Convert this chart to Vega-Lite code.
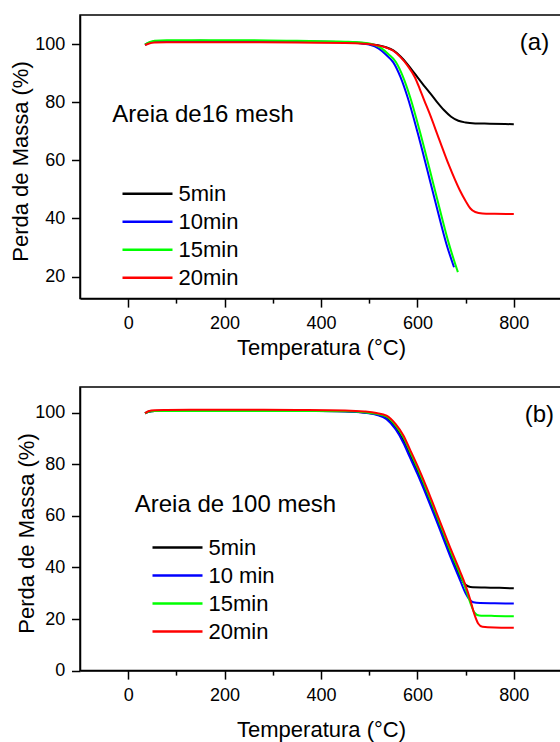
{
  "$schema": "https://vega.github.io/schema/vega-lite/v6.json",
  "padding": {"left": 8, "top": 14, "right": 0, "bottom": 0},
  "background": "white",
  "bounds": "flush",
  "spacing": 88,
  "config": {
    "font": "Liberation Sans",
    "view": {"stroke": "black", "strokeWidth": 1.5},
    "axis": {
      "domainColor": "black", "domainWidth": 1.5, "tickColor": "black", "tickWidth": 1.5,
      "labelColor": "black", "labelFontSize": 18, "labelFont": "Liberation Sans",
      "titleFont": "Liberation Sans", "titleFontSize": 22, "titleFontWeight": "normal", "titleColor": "black",
      "grid": false
    },
    "legend": {
      "orient": "none", "symbolType": "stroke", "symbolSize": 2500, "symbolStrokeWidth": 2.5,
      "labelFontSize": 22, "labelFont": "Liberation Sans", "labelColor": "black", "labelLimit": 300,
      "padding": 0, "rowPadding": 0, "labelOffset": 4.5
    }
  },
  "datasets": {
    "a": [
      {"T":35,"m":99.8,"s":"5min"},{"T":42,"m":100.4,"s":"5min"},{"T":55,"m":100.9,"s":"5min"},{"T":80,"m":101.0,"s":"5min"},{"T":150,"m":101.1,"s":"5min"},{"T":250,"m":101.0,"s":"5min"},{"T":350,"m":100.9,"s":"5min"},{"T":450,"m":100.6,"s":"5min"},{"T":490,"m":100.2,"s":"5min"},{"T":515,"m":99.7,"s":"5min"},{"T":535,"m":98.9,"s":"5min"},{"T":550,"m":97.8,"s":"5min"},{"T":565,"m":95.7,"s":"5min"},{"T":580,"m":92.9,"s":"5min"},{"T":595,"m":89.7,"s":"5min"},{"T":610,"m":86.5,"s":"5min"},{"T":625,"m":83.4,"s":"5min"},{"T":640,"m":80.2,"s":"5min"},{"T":655,"m":77.3,"s":"5min"},{"T":670,"m":75.0,"s":"5min"},{"T":685,"m":73.6,"s":"5min"},{"T":700,"m":73.0,"s":"5min"},{"T":720,"m":72.7,"s":"5min"},{"T":750,"m":72.6,"s":"5min"},{"T":800,"m":72.4,"s":"5min"},
      {"T":35,"m":99.7,"s":"10min"},{"T":42,"m":100.3,"s":"10min"},{"T":55,"m":100.8,"s":"10min"},{"T":80,"m":100.9,"s":"10min"},{"T":150,"m":101.0,"s":"10min"},{"T":250,"m":101.0,"s":"10min"},{"T":350,"m":100.9,"s":"10min"},{"T":450,"m":100.6,"s":"10min"},{"T":480,"m":100.3,"s":"10min"},{"T":500,"m":99.8,"s":"10min"},{"T":520,"m":98.4,"s":"10min"},{"T":535,"m":96.3,"s":"10min"},{"T":550,"m":93.7,"s":"10min"},{"T":565,"m":88.6,"s":"10min"},{"T":580,"m":81.5,"s":"10min"},{"T":600,"m":69.8,"s":"10min"},{"T":620,"m":57.0,"s":"10min"},{"T":640,"m":43.9,"s":"10min"},{"T":660,"m":31.3,"s":"10min"},{"T":676,"m":23.2,"s":"10min"},
      {"T":35,"m":99.8,"s":"15min"},{"T":42,"m":100.5,"s":"15min"},{"T":55,"m":101.1,"s":"15min"},{"T":80,"m":101.3,"s":"15min"},{"T":150,"m":101.3,"s":"15min"},{"T":250,"m":101.3,"s":"15min"},{"T":350,"m":101.1,"s":"15min"},{"T":450,"m":100.8,"s":"15min"},{"T":485,"m":100.5,"s":"15min"},{"T":505,"m":100.0,"s":"15min"},{"T":525,"m":98.6,"s":"15min"},{"T":540,"m":96.5,"s":"15min"},{"T":555,"m":93.9,"s":"15min"},{"T":570,"m":88.8,"s":"15min"},{"T":585,"m":81.7,"s":"15min"},{"T":605,"m":70.0,"s":"15min"},{"T":625,"m":57.2,"s":"15min"},{"T":645,"m":44.1,"s":"15min"},{"T":665,"m":31.5,"s":"15min"},{"T":684,"m":21.5,"s":"15min"},
      {"T":35,"m":99.6,"s":"20min"},{"T":42,"m":100.1,"s":"20min"},{"T":55,"m":100.5,"s":"20min"},{"T":80,"m":100.6,"s":"20min"},{"T":150,"m":100.6,"s":"20min"},{"T":250,"m":100.6,"s":"20min"},{"T":350,"m":100.5,"s":"20min"},{"T":450,"m":100.4,"s":"20min"},{"T":490,"m":100.1,"s":"20min"},{"T":515,"m":99.6,"s":"20min"},{"T":535,"m":98.8,"s":"20min"},{"T":550,"m":97.7,"s":"20min"},{"T":565,"m":95.5,"s":"20min"},{"T":580,"m":92.5,"s":"20min"},{"T":595,"m":88.5,"s":"20min"},{"T":605,"m":84.5,"s":"20min"},{"T":615,"m":80.3,"s":"20min"},{"T":625,"m":76.2,"s":"20min"},{"T":645,"m":67.3,"s":"20min"},{"T":665,"m":58.5,"s":"20min"},{"T":688,"m":49.7,"s":"20min"},{"T":700,"m":46.0,"s":"20min"},{"T":710,"m":43.4,"s":"20min"},{"T":720,"m":42.2,"s":"20min"},{"T":735,"m":41.7,"s":"20min"},{"T":760,"m":41.6,"s":"20min"},{"T":800,"m":41.5,"s":"20min"}
    ],
    "b": [
      {"T":35,"m":99.8,"s":"5min"},{"T":42,"m":100.4,"s":"5min"},{"T":55,"m":100.7,"s":"5min"},{"T":80,"m":100.8,"s":"5min"},{"T":150,"m":100.8,"s":"5min"},{"T":250,"m":100.8,"s":"5min"},{"T":350,"m":100.8,"s":"5min"},{"T":450,"m":100.6,"s":"5min"},{"T":490,"m":100.1,"s":"5min"},{"T":515,"m":99.4,"s":"5min"},{"T":536,"m":97.9,"s":"5min"},{"T":555,"m":94.2,"s":"5min"},{"T":571,"m":89.3,"s":"5min"},{"T":584,"m":84.0,"s":"5min"},{"T":600,"m":77.5,"s":"5min"},{"T":619,"m":69.0,"s":"5min"},{"T":636,"m":61.0,"s":"5min"},{"T":653,"m":52.9,"s":"5min"},{"T":670,"m":44.7,"s":"5min"},{"T":685,"m":37.8,"s":"5min"},{"T":695,"m":34.3,"s":"5min"},{"T":705,"m":32.7,"s":"5min"},{"T":715,"m":32.3,"s":"5min"},{"T":740,"m":32.2,"s":"5min"},{"T":770,"m":32.1,"s":"5min"},{"T":800,"m":31.9,"s":"5min"},
      {"T":35,"m":99.8,"s":"10 min"},{"T":42,"m":100.4,"s":"10 min"},{"T":55,"m":100.7,"s":"10 min"},{"T":80,"m":100.8,"s":"10 min"},{"T":150,"m":100.9,"s":"10 min"},{"T":250,"m":100.9,"s":"10 min"},{"T":350,"m":100.8,"s":"10 min"},{"T":450,"m":100.5,"s":"10 min"},{"T":490,"m":100.0,"s":"10 min"},{"T":515,"m":99.2,"s":"10 min"},{"T":536,"m":97.5,"s":"10 min"},{"T":555,"m":93.5,"s":"10 min"},{"T":571,"m":88.3,"s":"10 min"},{"T":584,"m":82.9,"s":"10 min"},{"T":600,"m":76.3,"s":"10 min"},{"T":619,"m":67.8,"s":"10 min"},{"T":636,"m":59.8,"s":"10 min"},{"T":653,"m":51.6,"s":"10 min"},{"T":670,"m":43.4,"s":"10 min"},{"T":688,"m":35.3,"s":"10 min"},{"T":700,"m":30.0,"s":"10 min"},{"T":708,"m":27.6,"s":"10 min"},{"T":716,"m":26.5,"s":"10 min"},{"T":730,"m":26.2,"s":"10 min"},{"T":760,"m":26.1,"s":"10 min"},{"T":800,"m":26.0,"s":"10 min"},
      {"T":35,"m":99.8,"s":"15min"},{"T":42,"m":100.4,"s":"15min"},{"T":55,"m":100.7,"s":"15min"},{"T":80,"m":100.7,"s":"15min"},{"T":150,"m":100.7,"s":"15min"},{"T":250,"m":100.7,"s":"15min"},{"T":350,"m":100.7,"s":"15min"},{"T":450,"m":100.6,"s":"15min"},{"T":490,"m":100.2,"s":"15min"},{"T":515,"m":99.6,"s":"15min"},{"T":536,"m":98.5,"s":"15min"},{"T":555,"m":95.0,"s":"15min"},{"T":571,"m":90.5,"s":"15min"},{"T":584,"m":85.2,"s":"15min"},{"T":600,"m":78.6,"s":"15min"},{"T":619,"m":70.0,"s":"15min"},{"T":636,"m":62.0,"s":"15min"},{"T":653,"m":53.9,"s":"15min"},{"T":670,"m":45.7,"s":"15min"},{"T":688,"m":37.6,"s":"15min"},{"T":700,"m":31.8,"s":"15min"},{"T":710,"m":26.2,"s":"15min"},{"T":718,"m":22.6,"s":"15min"},{"T":728,"m":21.4,"s":"15min"},{"T":760,"m":21.2,"s":"15min"},{"T":800,"m":21.1,"s":"15min"},
      {"T":35,"m":99.8,"s":"20min"},{"T":42,"m":100.6,"s":"20min"},{"T":55,"m":101.0,"s":"20min"},{"T":80,"m":101.1,"s":"20min"},{"T":150,"m":101.2,"s":"20min"},{"T":250,"m":101.2,"s":"20min"},{"T":350,"m":101.1,"s":"20min"},{"T":450,"m":100.9,"s":"20min"},{"T":490,"m":100.5,"s":"20min"},{"T":515,"m":99.9,"s":"20min"},{"T":536,"m":98.9,"s":"20min"},{"T":555,"m":95.6,"s":"20min"},{"T":571,"m":91.2,"s":"20min"},{"T":584,"m":86.0,"s":"20min"},{"T":600,"m":79.5,"s":"20min"},{"T":619,"m":71.1,"s":"20min"},{"T":636,"m":63.0,"s":"20min"},{"T":653,"m":54.9,"s":"20min"},{"T":670,"m":46.8,"s":"20min"},{"T":688,"m":38.7,"s":"20min"},{"T":700,"m":33.0,"s":"20min"},{"T":710,"m":27.3,"s":"20min"},{"T":718,"m":22.0,"s":"20min"},{"T":726,"m":18.3,"s":"20min"},{"T":735,"m":17.0,"s":"20min"},{"T":760,"m":16.7,"s":"20min"},{"T":800,"m":16.6,"s":"20min"}
    ]
  },
  "vconcat": [
    {
      "width": 482,
      "height": 283.6,
      "layer": [
        {
          "data": {"name": "a"},
          "mark": {"type": "line", "strokeWidth": 2, "interpolate": "monotone"},
          "encoding": {
            "x": {
              "field": "T", "type": "quantitative",
              "scale": {"domain": [-100, 900], "nice": false, "zero": false},
              "axis": {
                "title": "Temperatura (°C)",
                "values": [0, 100, 200, 300, 400, 500, 600, 700, 800],
                "labelExpr": "datum.value % 200 === 0 ? datum.label : ''",
                "tickSize": {"condition": {"test": "datum.value % 200 === 0", "value": 8.5}, "value": 4.5},
                "labelPadding": 7.5,
                "titlePadding": 5
              }
            },
            "y": {
              "field": "m", "type": "quantitative",
              "scale": {"domain": [12.4, 110], "nice": false, "zero": false},
              "axis": {
                "title": "Perda de Massa (%)",
                "values": [20, 30, 40, 50, 60, 70, 80, 90, 100],
                "labelExpr": "datum.value % 20 === 0 ? datum.label : ''",
                "tickSize": {"condition": {"test": "datum.value % 20 === 0", "value": 8.5}, "value": 4.5},
                "labelPadding": 6.8,
                "titlePadding": 2,
                "titleY": 146
              }
            },
            "color": {
              "field": "s", "type": "nominal",
              "scale": {"domain": ["5min", "10min", "15min", "20min"], "range": ["#000000", "#0000ff", "#00ff00", "#ff0000"]},
              "legend": {"title": null, "legendX": 41, "legendY": 165, "clipHeight": 27.5}
            }
          }
        },
        {
          "data": {"values": [{}]},
          "mark": {"type": "text", "font": "Liberation Sans", "fontSize": 24, "align": "left", "baseline": "middle", "color": "black"},
          "encoding": {"x": {"datum": -33}, "y": {"datum": 75.7}, "text": {"value": "Areia de16 mesh"}}
        },
        {
          "data": {"values": [{}]},
          "mark": {"type": "text", "font": "Liberation Sans", "fontSize": 24, "align": "center", "baseline": "middle", "color": "black"},
          "encoding": {"x": {"datum": 843}, "y": {"datum": 100.2}, "text": {"value": "(a)"}}
        }
      ]
    },
    {
      "width": 482,
      "height": 283.6,
      "layer": [
        {
          "data": {"name": "b"},
          "mark": {"type": "line", "strokeWidth": 2, "interpolate": "monotone"},
          "encoding": {
            "x": {
              "field": "T", "type": "quantitative",
              "scale": {"domain": [-100, 900], "nice": false, "zero": false},
              "axis": {
                "title": "Temperatura (°C)",
                "values": [0, 100, 200, 300, 400, 500, 600, 700, 800],
                "labelExpr": "datum.value % 200 === 0 ? datum.label : ''",
                "tickSize": {"condition": {"test": "datum.value % 200 === 0", "value": 8.5}, "value": 4.5},
                "labelPadding": 7.5,
                "titlePadding": 15
              }
            },
            "y": {
              "field": "m", "type": "quantitative",
              "scale": {"domain": [0, 110], "nice": false, "zero": false},
              "axis": {
                "title": "Perda de Massa (%)",
                "values": [0, 10, 20, 30, 40, 50, 60, 70, 80, 90, 100],
                "labelExpr": "datum.value % 20 === 0 ? datum.label : ''",
                "tickSize": {"condition": {"test": "datum.value % 20 === 0", "value": 8.5}, "value": 4.5},
                "labelPadding": 6.8,
                "titlePadding": -4,
                "titleY": 146
              }
            },
            "color": {
              "field": "s", "type": "nominal",
              "scale": {"domain": ["5min", "10 min", "15min", "20min"], "range": ["#000000", "#0000ff", "#00ff00", "#ff0000"]},
              "legend": {"title": null, "legendX": 71, "legendY": 147, "clipHeight": 27.2, "labelExpr": "datum.label == '5min' ? '\u00a05min' : datum.label"}
            }
          }
        },
        {
          "data": {"values": [{}]},
          "mark": {"type": "text", "font": "Liberation Sans", "fontSize": 24, "align": "left", "baseline": "middle", "color": "black"},
          "encoding": {"x": {"datum": 13.5}, "y": {"datum": 64.1}, "text": {"value": "Areia de 100 mesh"}}
        },
        {
          "data": {"values": [{}]},
          "mark": {"type": "text", "font": "Liberation Sans", "fontSize": 24, "align": "center", "baseline": "middle", "color": "black"},
          "encoding": {"x": {"datum": 853}, "y": {"datum": 99.1}, "text": {"value": "(b)"}}
        }
      ]
    }
  ],
  "resolve": {"scale": {"color": "independent", "y": "independent"}, "legend": {"color": "independent"}}
}
